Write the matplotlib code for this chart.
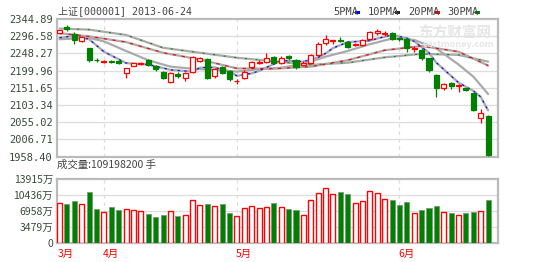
import numpy as np
import matplotlib.pyplot as plt
from matplotlib.patches import Rectangle

plt.rcParams['font.family'] = ['Noto Sans CJK SC', 'DejaVu Sans']

# daily OHLC, 2013-03-22 .. 2013-06-24
opens = [2306, 2323, 2303, 2283, 2262, 2231, 2224, 2227, 2226, 2192,
         2214, 2219, 2230, 2213, 2196, 2169, 2190, 2178, 2197, 2228,
         2233, 2184, 2209, 2199, 2170, 2178, 2211, 2222, 2225, 2239,
         2222, 2241, 2230, 2216, 2220, 2244, 2277, 2283, 2286, 2281,
         2273, 2272, 2290, 2305, 2302, 2306, 2292, 2288, 2260, 2258,
         2234, 2187, 2150, 2166, 2157, 2151, 2136, 2066, 2073]
highs = [2315, 2328, 2309, 2298, 2264, 2235, 2229, 2231, 2230, 2208,
         2222, 2224, 2233, 2216, 2198, 2196, 2196, 2196, 2240, 2237,
         2236, 2207, 2212, 2201, 2175, 2201, 2228, 2230, 2248, 2242,
         2240, 2244, 2232, 2226, 2246, 2279, 2300, 2287, 2295, 2284,
         2278, 2288, 2311, 2318, 2312, 2309, 2294, 2291, 2268, 2262,
         2236, 2189, 2164, 2168, 2162, 2152, 2138, 2091, 2075]
lows = [2304, 2312, 2276, 2281, 2225, 2225, 2222, 2220, 2217, 2178,
        2212, 2216, 2214, 2200, 2175, 2165, 2178, 2172, 2194, 2224,
        2177, 2180, 2191, 2172, 2163, 2175, 2208, 2218, 2220, 2219,
        2219, 2230, 2205, 2212, 2218, 2242, 2272, 2276, 2279, 2264,
        2270, 2270, 2287, 2300, 2297, 2286, 2283, 2253, 2253, 2230,
        2196, 2127, 2146, 2147, 2141, 2143, 2086, 2052, 1959]
closes = [2314, 2316, 2285, 2295, 2230, 2229, 2226, 2224, 2220, 2206,
          2220, 2221, 2216, 2203, 2178, 2193, 2186, 2192, 2237, 2234,
          2180, 2203, 2194, 2175, 2172, 2196, 2225, 2225, 2234, 2222,
          2236, 2234, 2211, 2222, 2244, 2275, 2288, 2286, 2284, 2267,
          2276, 2286, 2309, 2312, 2305, 2290, 2288, 2262, 2264, 2234,
          2202, 2150, 2161, 2157, 2160, 2146, 2089, 2080, 1963]

# volume, in 万手
volumes = [8835, 8472, 9196, 8472, 11153, 7385, 6877, 7820, 7240, 7385,
           7240, 7022, 6298, 5790, 6153, 7022, 5935, 6081, 9414, 8255,
           8472, 8037, 8472, 6660, 5935, 7602, 8037, 7602, 7820, 8690,
           7820, 7385, 7240, 6153, 9414, 11007, 12094, 10718, 11153, 10790,
           8835, 9196, 11442, 10935, 9631, 9486, 8399, 8907, 6587, 7240,
           7747, 8109, 6805, 6587, 6153, 6587, 6877, 7022, 9414]

# moving averages at some of the days
ma5_idx = [0, 2, 4, 6, 9, 12, 15, 18, 19, 21, 23, 24, 26, 27, 30, 33, 35, 36, 37,
           39, 42, 43, 45, 47, 48, 50, 51, 54, 56, 57, 58]
ma5 = [2292, 2298, 2288, 2253, 2221, 2217, 2202, 2197, 2208, 2209, 2197, 2185, 2192, 2199,
       2228, 2225, 2237, 2248, 2263, 2280, 2284, 2290, 2300, 2291, 2282, 2250, 2222,
       2166, 2143, 2126, 2088]
ma10_idx = [0, 4, 6, 9, 12, 15, 18, 21, 24, 27, 30, 33, 36, 39, 42, 45, 48, 51, 54, 56, 58]
ma10 = [2288, 2292, 2282, 2255, 2229, 2211, 2205, 2202, 2197, 2204, 2208, 2218, 2239,
        2255, 2274, 2290, 2286, 2262, 2217, 2183, 2134]
ma_idx = [0, 4, 9, 14, 19, 24, 29, 34, 39, 44, 49, 54, 58]
ma20 = [2305, 2296, 2280, 2250, 2231, 2206, 2205, 2211, 2229, 2257, 2269, 2253, 2214]
ma30 = [2318, 2315, 2300, 2264, 2250, 2236, 2226, 2216, 2222, 2237, 2247, 2244, 2225]

price_ticks = [1958.40, 2006.71, 2055.02, 2103.34, 2151.65, 2199.96, 2248.27, 2296.58, 2344.89]
vol_ticks = [0, 3479, 6958, 10436, 13915]
vol_labels = ['0', '3479万', '6958万', '10436万', '13915万']
month_idx = [0, 6, 24, 46]
month_labels = ['3月', '4月', '5月', '6月']

RED = '#ff0000'
GREEN = '#008000'
GRID = '#dddddd'
FRAME = '#bbbbbb'
TXT = '#3a4a3a'

fig = plt.figure(figsize=(5.5, 2.62), dpi=100)
ax = fig.add_axes([57 / 550, 1 - 156.5 / 262, 440.7 / 550, 137.5 / 262])
axv = fig.add_axes([57 / 550, 1 - 243.3 / 262, 440.7 / 550, 64 / 262])

n = len(closes)
xs = np.arange(n)
w = 0.68

for a in (ax, axv):
    a.set_xlim(-0.35, n + 0.3)
    for s in a.spines.values():
        s.set_color(FRAME)
        s.set_linewidth(1.6)
    a.set_xticks([])
    a.tick_params(axis='y', length=0, pad=3, labelsize=7.5, colors=TXT)
    for m in month_idx[1:]:
        a.axvline(m, color=GRID, lw=0.9, ls=(0, (3, 3)), zorder=0)

# price panel
ax.set_ylim(price_ticks[0], price_ticks[-1])
ax.set_yticks(price_ticks)
ax.set_yticklabels(['%.2f' % t for t in price_ticks], family='DejaVu Sans Mono')
for t in price_ticks[1:-1]:
    ax.axhline(t, color=GRID, lw=0.9, zorder=0)

for x, o, h, l, c in zip(xs, opens, highs, lows, closes):
    up = c >= o
    col = RED if up else GREEN
    lo, hi = min(o, c), max(o, c)
    ax.vlines(x, l, lo, color=col, lw=0.9, zorder=3)
    ax.vlines(x, hi, h, color=col, lw=0.9, zorder=3)
    body = max(hi - lo, 0.8)
    ax.add_patch(Rectangle((x - w / 2, lo), w, body, facecolor='white' if up else GREEN,
                           edgecolor=col, lw=0.9, zorder=4))

for idx, vals in ((ma_idx, ma30), (ma_idx, ma20), (ma10_idx, ma10), (ma5_idx, ma5)):
    ax.plot(idx, vals, color='#aaaaaa', lw=1.6, zorder=2, solid_capstyle='round')
ax.plot(ma5_idx, ma5, color='#0000ff', lw=0.8, ls=(0, (2, 4)), zorder=2.5)
ax.plot(ma_idx, ma20, color=RED, lw=0.8, ls=(0, (3, 5)), zorder=2.5)
ax.plot(ma_idx, ma30, color=GREEN, lw=0.7, ls=(4, (2, 9)), zorder=2.5)

# titles
fig.text(58 / 550, 1 - 12 / 262, '上证[000001] 2013-06-24', fontsize=7.2, color='#444444',
         va='center', ha='left', family=['DejaVu Sans Mono', 'Noto Sans CJK SC'])
lx = 333
for name, col in (('5PMA', '#0000ff'), ('10PMA', '#222222'), ('20PMA', RED), ('30PMA', GREEN)):
    fig.text(lx / 550, 1 - 12 / 262, name, fontsize=7.5, color='#444444', va='center', ha='left',
             family='DejaVu Sans Mono')
    sw = len(name) * 5.2
    fig.patches.append(Rectangle(((lx + sw + 1) / 550, 1 - 13.5 / 262), 5 / 550, 3 / 262,
                                 facecolor=col, edgecolor='none', transform=fig.transFigure))
    lx += sw + 14

# watermark
fig.text(455 / 550, 1 - 33 / 262, '东方财富网', fontsize=10.5, color='#e6e6e6', ha='center', va='center',
         weight='bold', zorder=0)
fig.text(458 / 550, 1 - 44 / 262, 'eastmoney.com', fontsize=6.5, color='#e6e6e6', ha='center',
         va='center', weight='bold', zorder=0)

# volume panel
axv.set_ylim(0, 13915)
axv.set_yticks(vol_ticks)
axv.set_yticklabels(vol_labels)
for t in vol_ticks[1:-1]:
    axv.axhline(t, color=GRID, lw=0.9, zorder=0)
for x, o, c, v in zip(xs, opens, closes, volumes):
    if c >= o:
        axv.bar(x, v, width=w, facecolor='white', edgecolor=RED, lw=1.0, zorder=3)
    else:
        axv.bar(x, v, width=w, facecolor=GREEN, edgecolor='#7a9a7a', lw=0.6, zorder=3)

fig.text(57 / 550, 1 - 165 / 262, '成交量:109198200 手', fontsize=7.5, color='#444444',
         va='center', ha='left')

for m, lab in zip(month_idx, month_labels):
    axv.text(m - 0.2, -0.09, lab, color=RED, fontsize=7.5, transform=axv.get_xaxis_transform(),
             ha='left', va='top')

fig.savefig('out.png', dpi=100)
